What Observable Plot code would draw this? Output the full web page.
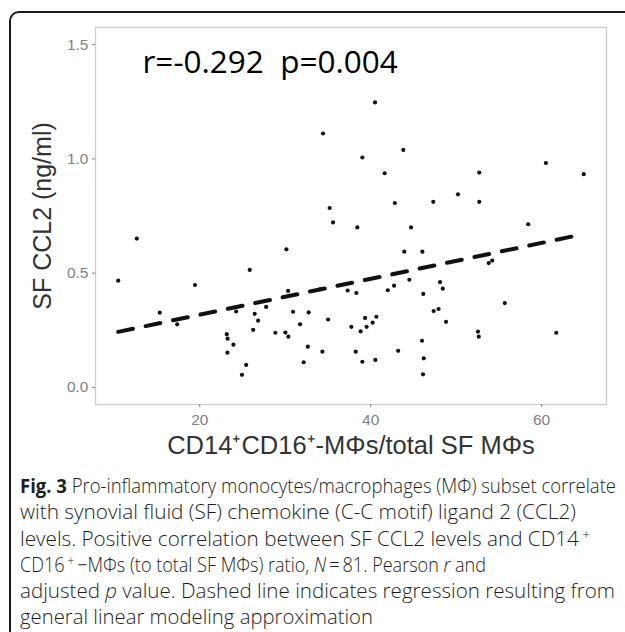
<!DOCTYPE html>
<html><head><meta charset="utf-8">
<script src="https://cdn.jsdelivr.net/npm/d3@7"></script>
<script src="https://cdn.jsdelivr.net/npm/@observablehq/plot@0.6"></script>
<style>
html,body{margin:0;padding:0;background:#fff;}
#wrap{position:relative;width:625px;height:632px;overflow:hidden;background:#fff;}
#box{position:absolute;left:9px;top:11px;width:700px;height:700px;border:2px solid #1a1a1a;border-radius:10px;box-sizing:border-box;}
#chart{position:absolute;left:0;top:0;}
#caption{position:absolute;left:20px;top:473px;font-family:"Open Sans",sans-serif;font-weight:300;font-size:20px;line-height:26.3px;color:#1e1e1e;}
#caption .ln{white-space:nowrap;width:max-content;transform-origin:0 0;}
#caption b{font-weight:700;}
#caption sup{font-size:13px;vertical-align:7px;line-height:0;}
</style></head><body>
<div id="wrap"><div id="box"></div><div id="chart"></div>
<div id="caption">
<div class="ln" data-w="596"><b>Fig. 3</b> Pro-inflammatory monocytes/macrophages (MΦ) subset correlate</div>
<div class="ln" data-w="556">with synovial fluid (SF) chemokine (C-C motif) ligand 2 (CCL2)</div>
<div class="ln" data-w="570">levels. Positive correlation between SF CCL2 levels and CD14&#8201;<sup>+</sup></div>
<div class="ln" data-w="466">CD16&#8201;<sup>+</sup>&#8201;−MΦs (to total SF MΦs) ratio, <i>N</i>&#8201;=&#8201;81. Pearson <i>r</i> and</div>
<div class="ln" data-w="595">adjusted <i>p</i> value. Dashed line indicates regression resulting from</div>
<div class="ln" data-w="353">general linear modeling approximation</div>
</div>
</div>
<script>
// CD14+CD16+ MΦ / total SF MΦ (%)
const ratio = [34.43,35.20,35.60,12.63,30.14,25.85,40.51,39.03,43.82,41.64,52.71,60.51,64.94,42.83,47.33,50.22,52.71,38.44,44.73,58.44,43.94,46.05,53.82,54.23,10.46,19.44,15.32,17.36,24.26,23.16,23.26,23.94,23.24,24.94,25.43,30.34,27.77,26.43,26.83,26.25,30.92,32.75,31.74,28.85,30.02,30.37,35.02,37.31,38.33,34.12,32.65,32.16,34.35,37.74,38.83,39.35,39.53,38.25,39.03,40.67,40.23,42.01,42.74,44.53,46.16,48.12,48.44,47.37,47.95,48.82,52.56,52.65,46.01,43.22,40.55,46.22,46.13,55.70,61.72];
// SF CCL2 (ng/ml)
const ccl2 = [1.111,0.785,0.722,0.651,0.604,0.514,1.247,1.006,1.039,0.937,0.940,0.982,0.933,0.807,0.812,0.845,0.812,0.700,0.700,0.714,0.594,0.594,0.544,0.555,0.467,0.448,0.327,0.276,0.332,0.233,0.213,0.187,0.152,0.055,0.098,0.422,0.352,0.322,0.292,0.252,0.331,0.328,0.276,0.239,0.240,0.222,0.297,0.424,0.413,0.430,0.178,0.110,0.156,0.265,0.245,0.304,0.265,0.156,0.112,0.309,0.283,0.425,0.445,0.471,0.409,0.461,0.432,0.334,0.343,0.287,0.244,0.222,0.204,0.160,0.120,0.127,0.057,0.369,0.239];
// fitted regression line
const fitX = [10.46, 64.94];
const fitY = [0.243, 0.671];
const xTicks = [20, 40, 60];
const yTicks = [0.0, 0.5, 1.0, 1.5];
const annotation = ["r=-0.292  p=0.004"];
const xTitle = "CD14⁺CD16⁺-MΦs/total SF MΦs";
const yTitle = "SF CCL2 (ng/ml)";

const points = ratio.map((x, i) => ({x, y: ccl2[i]}));
const fit = fitX.map((x, i) => ({x, y: fitY[i]}));

const chart = Plot.plot({
  width: 625, height: 470,
  marginLeft: 95, marginRight: 19, marginTop: 27, marginBottom: 66,
  style: {background: "transparent", fontFamily: "'Liberation Sans', Arial, sans-serif", overflow: "visible"},
  x: {domain: [7.8, 67.6]},
  y: {domain: [-0.075, 1.575]},
  marks: [
    Plot.frame({stroke: "#cccccc", strokeWidth: 1.3}),
    Plot.axisX({ticks: xTicks, tickSize: 3, tickPadding: 6, fontSize: 15.5, color: "#7f7f7f", label: null}),
    Plot.axisY({ticks: yTicks, tickFormat: d3.format(".1f"), tickSize: 3, tickPadding: 4, fontSize: 15.5, color: "#7f7f7f", label: null}),
    Plot.dot(points, {x: "x", y: "y", r: 2.1, fill: "#111", stroke: "none"}),
    Plot.line(fit, {x: "x", y: "y", stroke: "#111", strokeWidth: 4, strokeDasharray: "15,13"}),
    Plot.text(annotation, {frameAnchor: "top-left", textAnchor: "start", lineAnchor: "top", dx: 47, dy: 23, fontSize: 31.5, fill: "#000", fontFamily: "'Open Sans', sans-serif", style: {letterSpacing: "1.6px"}}),
    Plot.text([xTitle], {frameAnchor: "bottom", lineAnchor: "bottom", dy: 49, fontSize: 25.5, fill: "#333"}),
    Plot.text([yTitle], {frameAnchor: "left", textAnchor: "middle", lineAnchor: "bottom", rotate: -90, dx: -45, fontSize: 25, fill: "#333"})
  ]
});
document.getElementById("chart").appendChild(chart);

function fitLines() {
  document.querySelectorAll("#caption .ln").forEach(el => {
    el.style.transform = "none";
    const w = el.getBoundingClientRect().width;
    if (w > 0) el.style.transform = `scaleX(${(+el.dataset.w / w).toFixed(4)})`;
  });
}
fitLines();
if (document.fonts && document.fonts.ready) document.fonts.ready.then(fitLines);
</script>
</body></html>
